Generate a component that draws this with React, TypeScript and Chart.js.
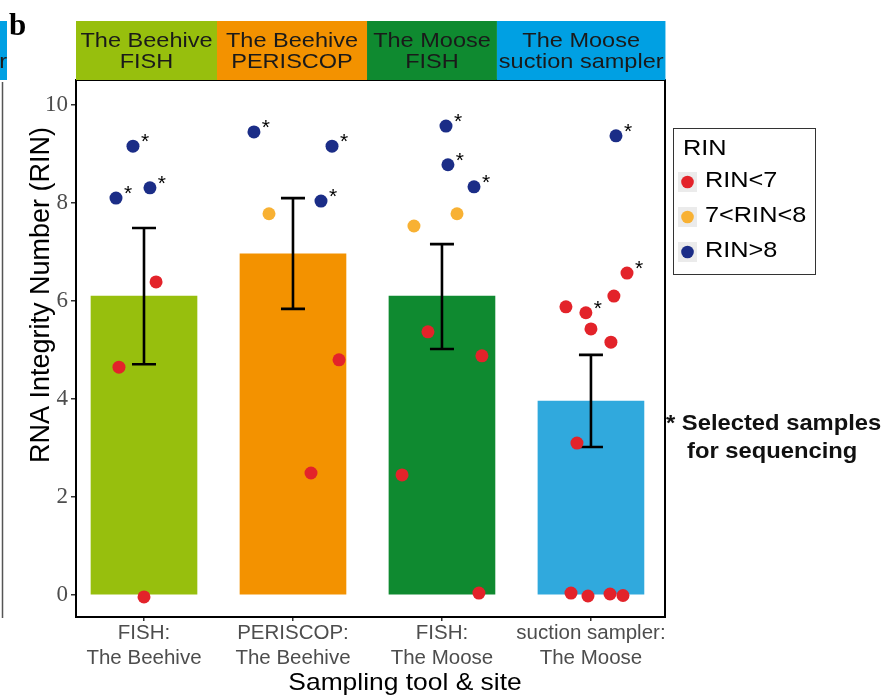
import React, { useEffect, useRef } from "react";
import { Chart, registerables } from "chart.js";

Chart.register(...registerables);

// ---------- data ----------
const xLabels = [
  ["FISH:", "The Beehive"],
  ["PERISCOP:", "The Beehive"],
  ["FISH:", "The Moose"],
  ["suction sampler:", "The Moose"],
];
const stripTitles = [
  ["The Beehive", "FISH"],
  ["The Beehive", "PERISCOP"],
  ["The Moose", "FISH"],
  ["The Moose", "suction sampler"],
];
const barMeans = [6.1, 6.96, 6.1, 3.96];
const errLow = [4.71, 5.84, 5.02, 3.02];
const errHigh = [7.49, 8.1, 7.16, 4.9];

// jittered x position (category index + jitter), RIN value, selected for sequencing
const pointX = [
  0.926, 0.812, 1.04, 1.081, 0.832, 1.0,
  1.738, 2.262, 2.188, 1.839, 2.309, 2.121,
  3.027, 3.04, 3.215, 3.101, 2.812, 2.906, 3.268, 2.732, 3.248,
  4.168, 4.242, 4.154, 3.832, 3.966, 4.0, 4.134, 3.906, 3.866, 3.98, 4.128, 4.215,
];
const pointRIN = [
  9.16, 8.1, 8.31, 6.39, 4.65, -0.04,
  9.45, 9.16, 8.04, 7.78, 4.8, 2.49,
  9.57, 8.78, 8.33, 7.78, 7.53, 5.37, 4.88, 2.45, 0.04,
  9.37, 6.57, 6.1, 5.88, 5.76, 5.43, 5.16, 3.1, 0.04, -0.02, 0.02, -0.01,
];
const pointSelected = [
  true, true, true, false, false, false,
  true, true, true, false, false, false,
  true, true, true, false, false, false, false, false, false,
  true, true, false, false, true, false, false, false, false, false, false, false,
];
const yTicks = [0, 2, 4, 6, 8, 10];
const legendLabels = ["RIN<7", "7<RIN<8", "RIN>8"];

// ---------- styles ----------
const barColors = ["#97BF0D", "#F39200", "#0F8A30", "#30A9DD"];
const stripColors = ["#97BF0D", "#F39200", "#0F8A30", "#00A0E3"];
const dotColors = ["#E3232A", "#F8B133", "#1B2D87"];
const SANS = "'Liberation Sans', Arial, sans-serif";
const SERIF = "'Liberation Serif', 'Times New Roman', serif";

const rinClass = (v: number) => (v < 7 ? 0 : v < 8 ? 1 : 2);

const stripBounds = [0.5436, 1.49, 2.497, 3.369, 4.5];

function stretchText(
  ctx: CanvasRenderingContext2D,
  t: string,
  x: number,
  by: number,
  sx: number,
  align: CanvasTextAlign = "center"
) {
  ctx.save();
  ctx.translate(x, by);
  ctx.scale(sx, 1);
  ctx.textAlign = align;
  ctx.textBaseline = "alphabetic";
  ctx.fillText(t, 0, 0);
  ctx.restore();
}

const decor = {
  id: "decor",
  beforeDraw(chart: any) {
    const ctx = chart.ctx;
    ctx.save();
    ctx.fillStyle = "#ffffff";
    ctx.fillRect(0, 0, chart.width, chart.height);
    ctx.restore();
  },
  afterDatasetDraw(chart: any, args: any) {
    if (args.index !== 0) return;
    const ctx = chart.ctx;
    const xs = chart.scales.x;
    const ys = chart.scales.y;
    ctx.save();
    ctx.strokeStyle = "#000";
    ctx.lineWidth = 2.6;
    barMeans.forEach((_, i) => {
      const x = xs.getPixelForValue(i + 1);
      const yl = ys.getPixelForValue(errLow[i]);
      const yh = ys.getPixelForValue(errHigh[i]);
      ctx.beginPath();
      ctx.moveTo(x, yl);
      ctx.lineTo(x, yh);
      ctx.moveTo(x - 12, yl);
      ctx.lineTo(x + 12, yl);
      ctx.moveTo(x - 12, yh);
      ctx.lineTo(x + 12, yh);
      ctx.stroke();
    });
    ctx.restore();
  },
  afterDatasetsDraw(chart: any) {
    const ctx = chart.ctx;
    const xs = chart.scales.x;
    const ys = chart.scales.y;
    ctx.save();
    ctx.fillStyle = "#000";
    ctx.font = `21px ${SANS}`;
    ctx.textAlign = "center";
    ctx.textBaseline = "alphabetic";
    pointX.forEach((px, i) => {
      if (!pointSelected[i]) return;
      const x = xs.getPixelForValue(px);
      const y = ys.getPixelForValue(pointRIN[i]);
      ctx.fillText("*", x + 12, y + 2);
    });
    ctx.restore();
  },
  afterDraw(chart: any) {
    const ctx = chart.ctx;
    const a = chart.chartArea;
    const xs = chart.scales.x;
    ctx.save();
    // panel border
    ctx.strokeStyle = "#000";
    ctx.lineWidth = 2;
    ctx.strokeRect(a.left, a.top, a.right - a.left, a.bottom - a.top);

    // facet strips
    const sTop = 21;
    for (let i = 0; i < 4; i++) {
      const x0 = xs.getPixelForValue(stripBounds[i]);
      const x1 = xs.getPixelForValue(stripBounds[i + 1]);
      ctx.fillStyle = stripColors[i];
      ctx.fillRect(x0, sTop, x1 - x0, a.top - sTop);
      ctx.fillStyle = "#1a1a1a";
      ctx.font = `21px ${SANS}`;
      const cx = (x0 + x1) / 2;
      stretchText(ctx, stripTitles[i][0], cx, 47, 1.12);
      stretchText(ctx, stripTitles[i][1], cx, 68, 1.12);
    }
    // leftover strip of previous panel
    ctx.fillStyle = "#00A0E3";
    ctx.fillRect(0, sTop, 7, a.top - sTop);
    ctx.fillStyle = "#1a1a1a";
    ctx.font = `21px ${SANS}`;
    stretchText(ctx, "r", 7, 68, 1.12, "right");
    ctx.strokeStyle = "#555";
    ctx.lineWidth = 1.5;
    ctx.beginPath();
    ctx.moveTo(2.5, a.top + 2);
    ctx.lineTo(2.5, a.bottom + 1);
    ctx.stroke();

    // panel letter
    ctx.fillStyle = "#000";
    ctx.font = `bold 31px ${SERIF}`;
    ctx.textAlign = "left";
    ctx.textBaseline = "alphabetic";
    ctx.fillText("b", 9, 35);

    // axis titles
    ctx.font = `24px ${SANS}`;
    stretchText(ctx, "Sampling tool & site", 405, 690, 1.1);
    ctx.save();
    ctx.translate(42, 295);
    ctx.rotate(-Math.PI / 2);
    ctx.font = `27px ${SANS}`;
    ctx.textAlign = "center";
    ctx.textBaseline = "middle";
    ctx.fillText("RNA Integrity Number (RIN)", 0, 0);
    ctx.restore();

    // legend
    ctx.strokeStyle = "#333";
    ctx.lineWidth = 1;
    ctx.strokeRect(673.5, 128.5, 142, 146);
    ctx.fillStyle = "#000";
    ctx.font = `22px ${SANS}`;
    stretchText(ctx, "RIN", 683, 155, 1.15, "left");
    const keyCenters = [182, 217, 252];
    legendLabels.forEach((lab, i) => {
      const cy = keyCenters[i];
      ctx.fillStyle = "#EBEBEB";
      ctx.fillRect(678, cy - 10, 19, 20);
      ctx.fillStyle = dotColors[i];
      ctx.beginPath();
      ctx.arc(687.5, cy, 6.3, 0, Math.PI * 2);
      ctx.fill();
      ctx.fillStyle = "#000";
      stretchText(ctx, lab, 705, cy + 4.5, 1.15, "left");
    });

    // annotation
    ctx.font = `bold 22px ${SANS}`;
    ctx.fillStyle = "#111";
    stretchText(ctx, "* Selected samples", 666, 430, 1.08, "left");
    stretchText(ctx, "for sequencing", 687, 458, 1.08, "left");
    ctx.restore();
  },
};

export default function App() {
  const ref = useRef<HTMLCanvasElement | null>(null);
  useEffect(() => {
    if (!ref.current) return;
    const groups = [0, 1, 2].map((c) =>
      pointX
        .map((x, i) => ({ x, y: pointRIN[i] }))
        .filter((_, i) => rinClass(pointRIN[i]) === c)
    );
    const chart = new Chart(ref.current, {
      type: "bar",
      data: {
        datasets: [
          {
            type: "bar",
            data: barMeans.map((v, i) => ({ x: i + 1, y: v })),
            backgroundColor: barColors,
            barThickness: 106,
            order: 5,
          } as any,
          ...groups.map((g, c) => ({
            type: "scatter",
            data: g,
            backgroundColor: dotColors[c],
            borderWidth: 0,
            pointRadius: 6.5,
            order: 0,
          })),
        ],
      },
      options: {
        animation: false,
        responsive: false,
        devicePixelRatio: 1,
        layout: { padding: { left: 0, top: 80, right: 222, bottom: 0 } },
        plugins: { legend: { display: false }, tooltip: { enabled: false } },
        scales: {
          x: {
            type: "linear",
            min: 0.5436,
            max: 4.497,
            offset: false,
            afterBuildTicks: (s: any) => {
              s.ticks = [1, 2, 3, 4].map((value) => ({ value }));
            },
            afterFit: (s: any) => {
              s.height = 82;
            },
            grid: {
              offset: false,
              drawOnChartArea: false,
              drawTicks: true,
              tickLength: 4,
              color: "#333",
              lineWidth: 1.5,
            },
            border: { display: false },
            ticks: {
              autoSkip: false,
              maxRotation: 0,
              padding: 0,
              color: "#4d4d4d",
              font: { family: SANS, size: 20.5, lineHeight: 1.22 },
              callback: (v: any) => xLabels[Math.round(v) - 1] ?? "",
            },
          },
          y: {
            type: "linear",
            min: -0.449,
            max: 10.51,
            afterBuildTicks: (s: any) => {
              s.ticks = yTicks.map((value) => ({ value }));
            },
            afterFit: (s: any) => {
              s.width = 76;
            },
            grid: { drawOnChartArea: false, drawTicks: true, tickLength: 5, color: "#333", lineWidth: 1.5 },
            border: { display: false },
            ticks: {
              padding: 3,
              color: "#4d4d4d",
              font: { family: SERIF, size: 23 },
            },
          },
        },
      },
      plugins: [decor],
    } as any);
    return () => chart.destroy();
  }, []);
  return (
    <div style={{ position: "fixed", left: 0, top: 0, width: 887, height: 699, background: "#fff" }}>
      <canvas ref={ref} width={887} height={699} style={{ width: 887, height: 699, display: "block" }} />
    </div>
  );
}
